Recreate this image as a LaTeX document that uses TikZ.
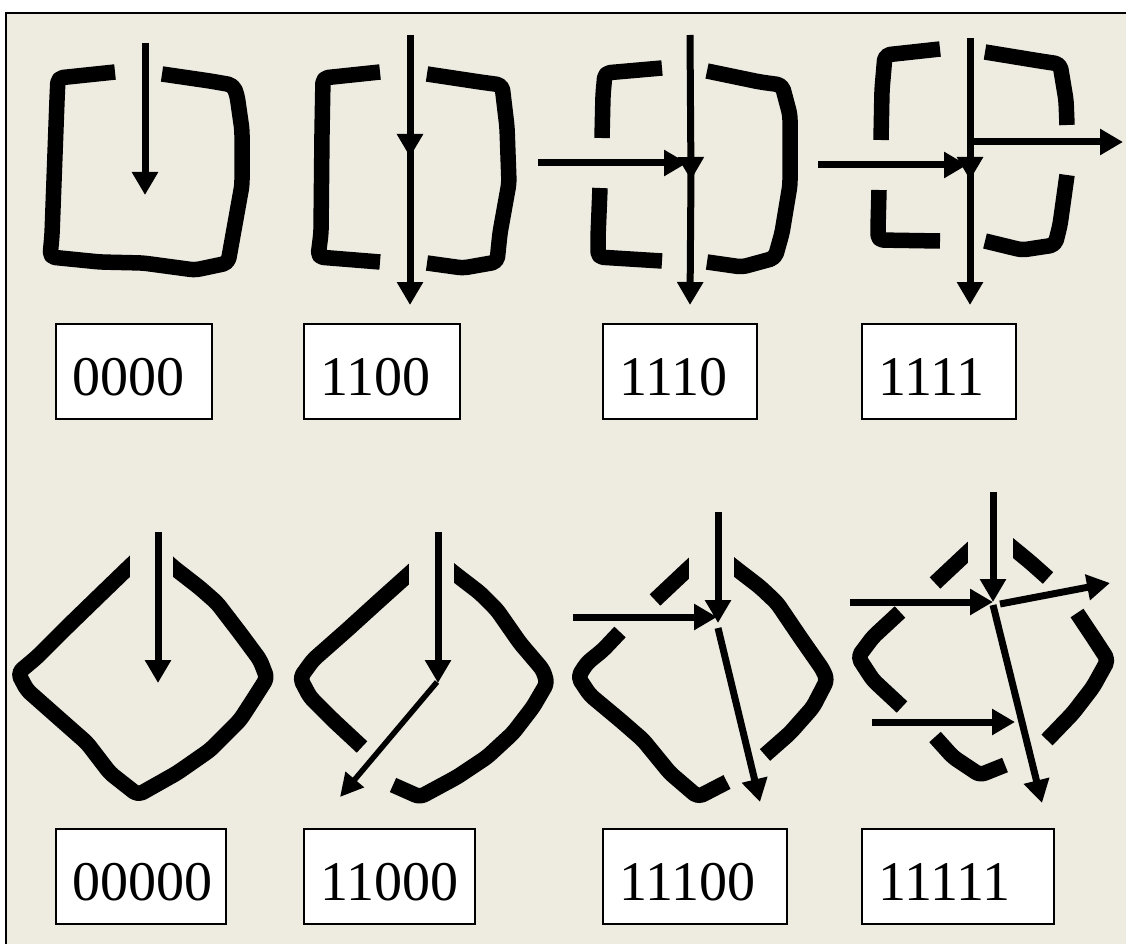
\documentclass[tikz,border=0pt]{standalone}
\usepackage{fontspec}
\setmainfont{Liberation Serif}
\usetikzlibrary{arrows.meta}
\definecolor{bgc}{HTML}{EEECE1}
\tikzset{
  wall/.style={line width=15.5pt, line join=round, line cap=butt, rounded corners=5pt},
  ray/.style={line width=7pt, -{Triangle[length=23pt,width=25pt]}},
  thinray/.style={line width=5.5pt, -{Triangle[length=23pt,width=23pt]}},
  lbl/.style={draw, line width=1.8pt, fill=white, anchor=north west, inner xsep=17pt, inner ysep=0pt,
    text height=72pt, text depth=23pt, align=left, font=\fontsize{56}{60}\selectfont},
  gapfill/.style={fill=bgc, draw=none},
}
\begin{document}
\begin{tikzpicture}[x=1pt,y=-1pt]
\useasboundingbox (0,0) rectangle (1126,944);
\fill[white] (0,0) rectangle (1126,944);
\fill[bgc] (6,13) rectangle (1130,950);
\draw[line width=2pt] (6,950) -- (6,13) -- (1130,13);

% ---------- row 1 shapes ----------
% panel 1
\draw[wall] (115,72) -- (58,78) -- (57,100) -- (52,235) -- (50,257) -- (100,262) -- (143,263)
  -- (195,270) -- (228,263) -- (242,185) -- (242,130) -- (237,95) -- (233,85) -- (210,81) -- (162,74);
% panel 2
\draw[wall] (380,72) -- (323,78) -- (322,133) -- (321,233) -- (318,257) -- (380,262);
\draw[wall] (427,74) -- (480,82) -- (502,85) -- (507,127) -- (509,183) -- (500,233) -- (497,262) -- (463,268) -- (427,263);
% panel 3
\draw[wall] (662,68) -- (605,73) -- (603,95) -- (602,138);
\draw[wall] (600,188) -- (598,237) -- (598,257) -- (662,261);
\draw[wall] (707,71) -- (760,82) -- (782,85) -- (790,115) -- (790,185) -- (782,233) -- (775,258) -- (742,267) -- (707,262);
% panel 4
\draw[wall] (940,49) -- (885,55) -- (882,90) -- (881,140);
\draw[wall] (879,190) -- (878,228) -- (878,240) -- (940,241);
\draw[wall] (985,52) -- (1040,61) -- (1060,64) -- (1066,100) -- (1067,125);
\draw[wall] (1067,175) -- (1060,225) -- (1055,245) -- (1022,250) -- (985,241);

% ---------- row 2 shapes ----------
% panel 5
\draw[wall] (145,552) -- (129,567) -- (100,595) -- (67,627) -- (37,657) -- (18,673) -- (27,690)
  -- (53,713) -- (87,743) -- (110,773) -- (138,795) -- (177,773) -- (210,750) -- (240,720)
  -- (253,700) -- (267,678) -- (260,660) -- (240,633) -- (217,603) -- (200,588) -- (173,567) -- (160,555);
\fill[gapfill] (130,535) rectangle (173,592);
% panel 6
\draw[wall] (420,564) -- (409,574) -- (380,600) -- (347,630) -- (313,660) -- (300,678) -- (310,697) -- (333,720) -- (362,747);
\draw[wall] (443,564) -- (454,573) -- (480,593) -- (497,610) -- (520,643) -- (543,670) -- (547,683)
  -- (533,707) -- (513,733) -- (487,757) -- (457,777) -- (420,797) -- (393,785);
\fill[gapfill] (409,540) rectangle (454,598);
% panel 7
\draw[wall] (700,558) -- (689,568) -- (655,600);
\draw[wall] (620,632) -- (603,650) -- (587,663) -- (578,677) -- (590,695) -- (620,720) -- (643,740)
  -- (670,773) -- (698,797) -- (727,782);
\draw[wall] (723,558) -- (734,567) -- (760,587) -- (777,603) -- (800,637) -- (823,670) -- (827,680)
  -- (813,707) -- (790,733) -- (765,755);
\fill[gapfill] (689,535) rectangle (734,592);
% panel 8
\draw[wall] (979,542) -- (968,552) -- (935,583);
\draw[wall] (1002,539) -- (1013,548) -- (1030,562) -- (1048,578);
\draw[wall] (900,612) -- (873,637) -- (858,657) -- (873,680) -- (902,707);
\draw[wall] (1077,613) -- (1093,637) -- (1108,660) -- (1093,687) -- (1073,713) -- (1047,740);
\draw[wall] (935,737) -- (953,757) -- (980,775) -- (1005,765);
\fill[gapfill] (968,525) rectangle (1013,575);

% ---------- rays ----------
\coordinate (p1a) at (145,43);  \coordinate (p1b) at (145,195);
\draw[ray] (p1a) -- (p1b);

\coordinate (p2a) at (410,35);  \coordinate (p2b) at (410,157);
\coordinate (p2c) at (410,150); \coordinate (p2d) at (410,305);
\draw[ray] (p2a) -- (p2b);
\draw[ray] (p2c) -- (p2d);

\coordinate (p3a) at (690,35);  \coordinate (p3b) at (691,180);
\coordinate (p3c) at (538,163); \coordinate (p3d) at (687,163);
\coordinate (p3e) at (691,173); \coordinate (p3f) at (690,305);
\draw[ray] (p3a) -- (p3b);
\draw[ray] (p3e) -- (p3f);
\draw[ray] (p3c) -- (p3d);

\coordinate (p4a) at (970,38);  \coordinate (p4b) at (970,180);
\coordinate (p4c) at (818,165); \coordinate (p4d) at (967,165);
\coordinate (p4e) at (970,173); \coordinate (p4f) at (970,305);
\coordinate (p4g) at (970,142); \coordinate (p4h) at (1123,142);
\draw[ray] (p4a) -- (p4b);
\draw[ray] (p4e) -- (p4f);
\draw[ray] (p4c) -- (p4d);
\draw[ray] (p4g) -- (p4h);

\coordinate (p5a) at (158,532); \coordinate (p5b) at (158,683);
\draw[ray] (p5a) -- (p5b);

\coordinate (p6a) at (438,532); \coordinate (p6b) at (438,683);
\coordinate (p6c) at (437,682); \coordinate (p6d) at (340,797);
\draw[ray] (p6a) -- (p6b);
\draw[thinray] (p6c) -- (p6d);

\coordinate (p7a) at (718,512); \coordinate (p7b) at (718,623);
\coordinate (p7c) at (573,617); \coordinate (p7d) at (717,617);
\coordinate (p7e) at (718,628); \coordinate (p7f) at (760,802);
\draw[ray] (p7a) -- (p7b);
\draw[ray] (p7c) -- (p7d);
\draw[ray] (p7e) -- (p7f);

\coordinate (p8a) at (993,492); \coordinate (p8b) at (993,602);
\coordinate (p8c) at (850,602); \coordinate (p8d) at (993,602);
\coordinate (p8e) at (1000,604); \coordinate (p8f) at (1110,583);
\coordinate (p8g) at (993,605); \coordinate (p8h) at (1042,803);
\coordinate (p8i) at (872,722); \coordinate (p8j) at (1015,722);
\draw[ray] (p8a) -- (p8b);
\draw[ray] (p8c) -- (p8d);
\draw[ray] (p8e) -- (p8f);
\draw[ray] (p8g) -- (p8h);
\draw[ray] (p8i) -- (p8j);

% ---------- labels ----------
\node[lbl, text width=122pt] (b1) at (55,323) {0000};
\node[lbl, text width=122pt] (b2) at (303,323) {1100};
\node[lbl, text width=120pt] (b3) at (602,323) {1110};
\node[lbl, text width=120pt] (b4) at (861,323) {1111};
\node[lbl, text width=136pt] (b5) at (55,828) {00000};
\node[lbl, text width=137pt] (b6) at (303,828) {11000};
\node[lbl, text width=150pt] (b7) at (602,828) {11100};
\node[lbl, text width=158pt] (b8) at (861,828) {11111};
\end{tikzpicture}
\end{document}
